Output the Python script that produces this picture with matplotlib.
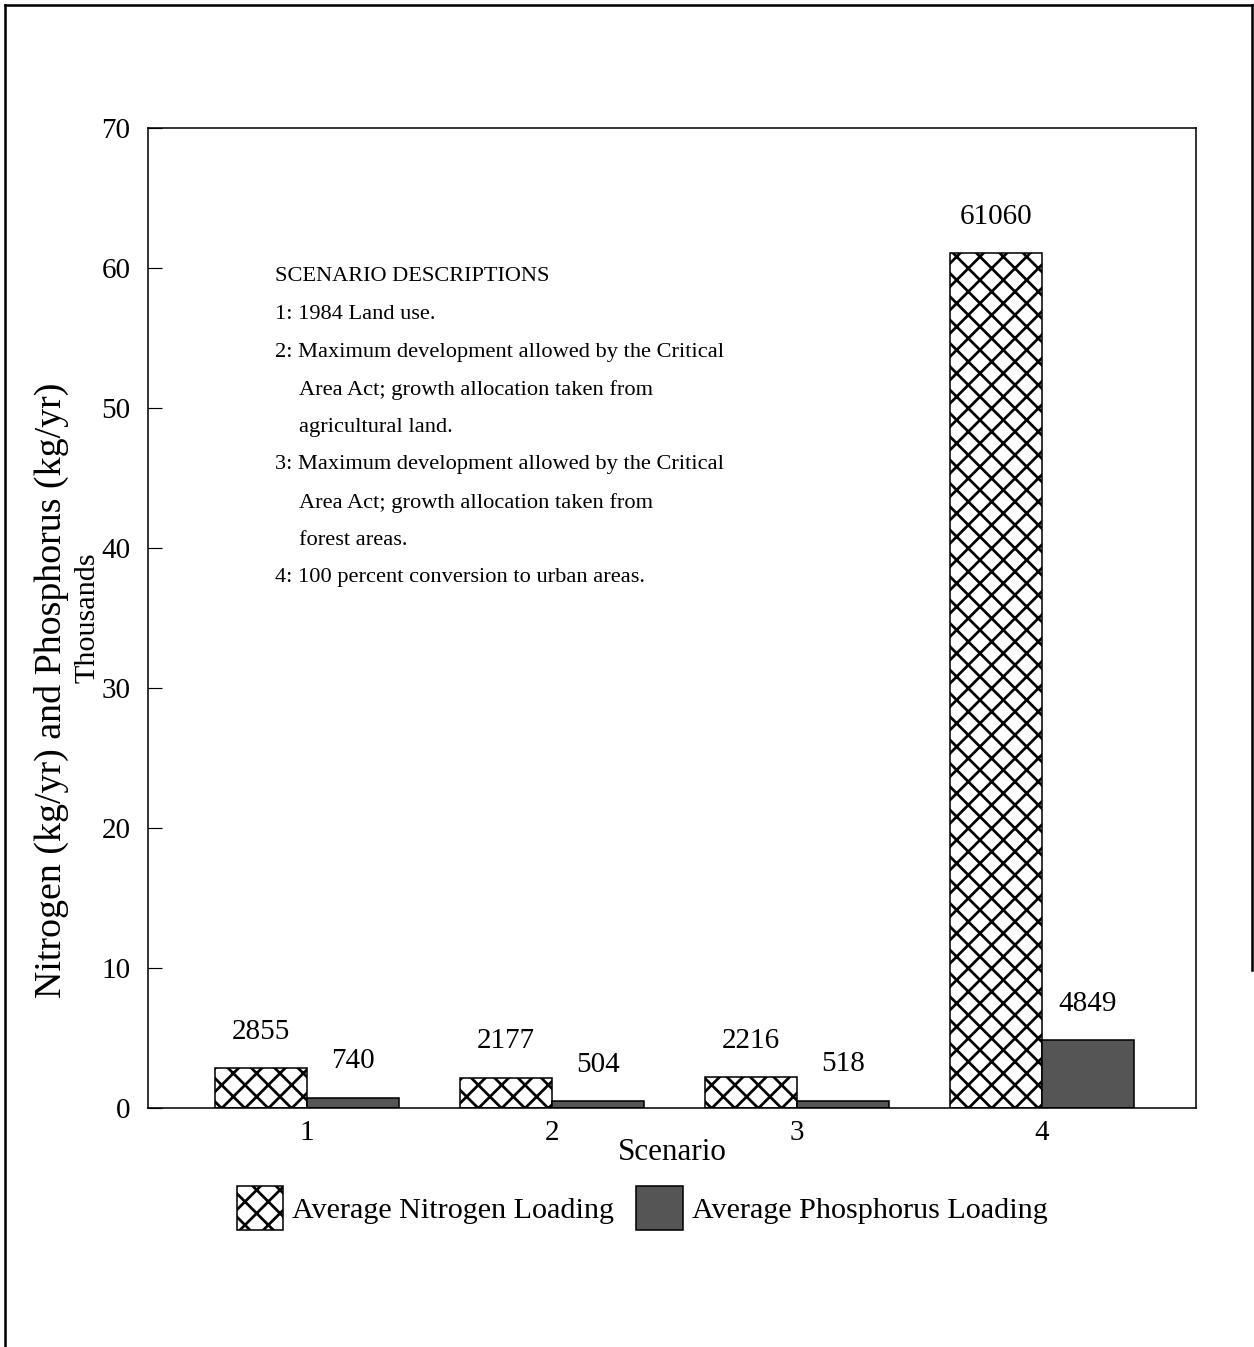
import numpy as np
import matplotlib
matplotlib.use('Agg')
import matplotlib.pyplot as plt
from matplotlib.lines import Line2D

plt.rcParams['font.family'] = ['Liberation Serif', 'DejaVu Serif']
plt.rcParams['hatch.linewidth'] = 1.4

# data (thousands of kg/yr)
scenarios = [1, 2, 3, 4]
nitrogen = [2.855, 2.177, 2.216, 61.060]
phosphorus = [0.740, 0.504, 0.518, 4.849]
nitrogen_labels = ['2855', '2177', '2216', '61060']
phosphorus_labels = ['740', '504', '518', '4849']
yticks = [0, 10, 20, 30, 40, 50, 60, 70]

desc_lines = [
    (0, 'SCENARIO DESCRIPTIONS'),
    (0, '1: 1984 Land use.'),
    (0, '2: Maximum development allowed by the Critical'),
    (1, 'Area Act; growth allocation taken from'),
    (1, 'agricultural land.'),
    (0, '3: Maximum development allowed by the Critical'),
    (1, 'Area Act; growth allocation taken from'),
    (1, 'forest areas.'),
    (0, '4: 100 percent conversion to urban areas.'),
]

DPI = 140
fig = plt.figure(figsize=(1254 / DPI, 1347 / DPI), dpi=DPI)
ax = fig.add_axes([0.118, 0.1774, 0.8357, 0.7276])

x = np.array(scenarios, dtype=float)
w = 0.375
bn = ax.bar(x - w / 2, nitrogen, w, color='white', edgecolor='black',
            linewidth=0.8, hatch='xx', label='Average Nitrogen Loading')
bp = ax.bar(x + w / 2, phosphorus, w, color='#555555', edgecolor='black',
            linewidth=0.8, label='Average Phosphorus Loading')

for xi, v, s in zip(x - w / 2, nitrogen, nitrogen_labels):
    ax.annotate(s, (xi, v), xytext=(0, 12), textcoords='offset points',
                ha='center', va='bottom', fontsize=15)
for xi, v, s in zip(x + w / 2, phosphorus, phosphorus_labels):
    ax.annotate(s, (xi, v), xytext=(0, 12), textcoords='offset points',
                ha='center', va='bottom', fontsize=15)

ax.set_xlim(0.351, 4.629)
ax.set_ylim(0, 70)
ax.set_yticks(yticks)
ax.set_xticks(scenarios)
ax.tick_params(axis='y', direction='in', length=7, width=0.6, labelsize=15, pad=9)
ax.tick_params(axis='x', length=0, labelsize=15, pad=6)
for sp in ax.spines.values():
    sp.set_linewidth(0.8)

ax.set_xlabel('Scenario', fontsize=16, va='top')
ax.xaxis.set_label_coords(0.5, -0.031)

# y label, two lines
ax.text(-0.092, 0.4265, 'Nitrogen (kg/yr) and Phosphorus (kg/yr)', transform=ax.transAxes,
        rotation=90, ha='center', va='center', fontsize=19.5)
ax.text(-0.058, 0.5, 'Thousands', transform=ax.transAxes,
        rotation=90, ha='center', va='center', fontsize=15.5)

# scenario descriptions
for i, (indent, line) in enumerate(desc_lines):
    ax.text(0.1212 + indent * 0.023, 0.848 - i * 0.03837, line, transform=ax.transAxes,
            ha='left', va='center', fontsize=11.5)

fig.legend(handles=[bn, bp], loc='center', bbox_to_anchor=(0.512, 0.103), ncol=2,
           frameon=False, fontsize=15.5, handlelength=1.53, handleheight=1.85,
           handletextpad=0.3, columnspacing=0.75, borderpad=0)

# page border
lw = 1.3
fig.add_artist(Line2D([0.004, 0.004], [0.9963, 0.0], transform=fig.transFigure, color='black', lw=lw))
fig.add_artist(Line2D([0.004, 0.9984], [0.9963, 0.9963], transform=fig.transFigure, color='black', lw=lw))
fig.add_artist(Line2D([0.9984, 0.9984], [0.9963, 0.28], transform=fig.transFigure, color='black', lw=lw))

fig.savefig('out.png', dpi=DPI)
